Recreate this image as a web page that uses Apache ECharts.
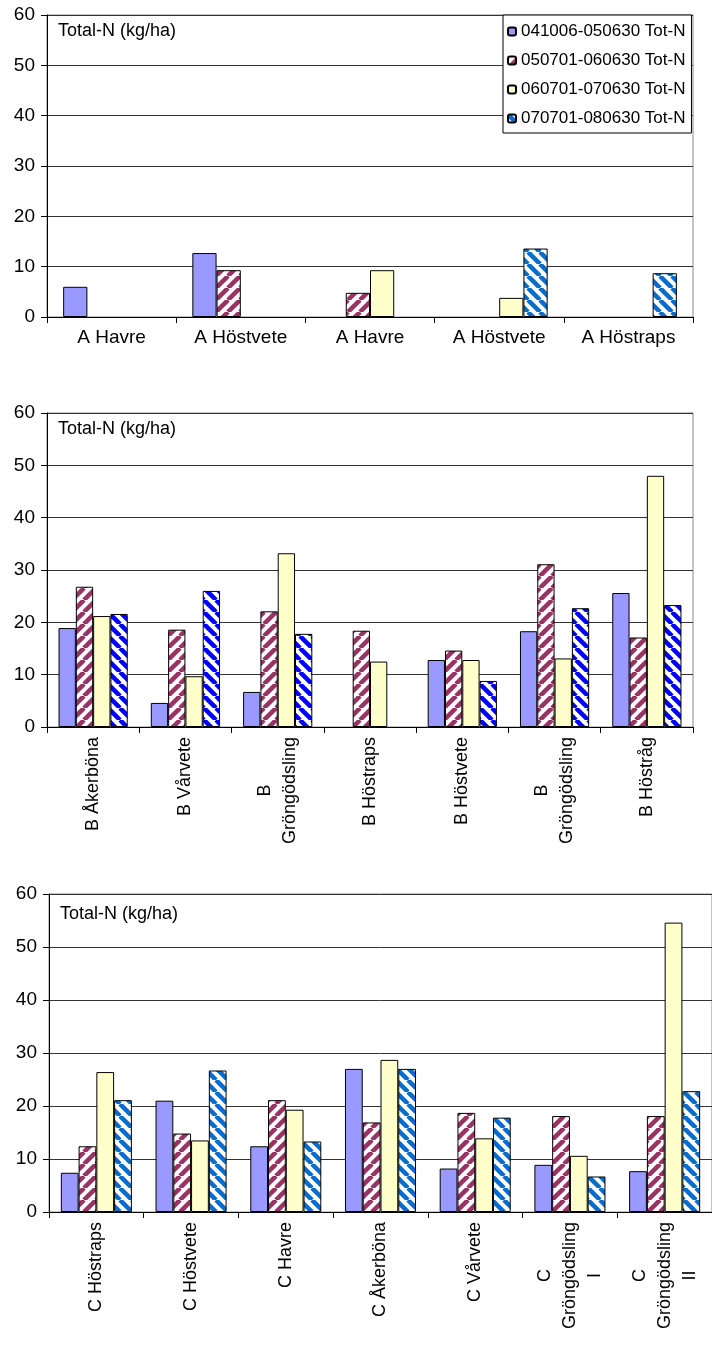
<!DOCTYPE html>
<html>
<head>
<meta charset="utf-8">
<script src="https://cdn.jsdelivr.net/npm/echarts@6/dist/echarts.min.js"></script>
<style>
html, body { margin: 0; padding: 0; background: #fff; }
#chart { width: 712px; height: 1348px; }
</style>
</head>
<body>
<div id="chart"></div>
<script>
// ---- data ----
const seriesNames = ['041006-050630 Tot-N', '050701-060630 Tot-N', '060701-070630 Tot-N', '070701-080630 Tot-N'];
const unitLabel = 'Total-N (kg/ha)';
const yTicks = { min: 0, max: 60, interval: 10 };

const categoriesA = ['A Havre', 'A Höstvete', 'A Havre', 'A Höstvete', 'A Höstraps'];
const A1 = [6.0, 12.7, null, null, null];
const A2 = [null, 9.3, 4.8, null, null];
const A3 = [null, null, 9.3, 3.8, null];
const A4 = [null, null, null, 13.6, 8.7];

const categoriesB = ['B Åkerböna', 'B Vårvete', 'B\nGröngödsling', 'B Höstraps', 'B Höstvete', 'B\nGröngödsling', 'B Höstråg'];
const B1 = [18.9, 4.6, 6.7, null, 12.8, 18.3, 25.6];
const B2 = [26.8, 18.6, 22.1, 18.4, 14.6, 31.1, 17.1];
const B3 = [21.2, 9.7, 33.2, 12.5, 12.8, 13.1, 48.0];
const B4 = [21.6, 26.0, 17.8, null, 8.8, 22.7, 23.3];

const categoriesC = ['C Höstraps', 'C Höstvete', 'C Havre', 'C Åkerböna', 'C Vårvete', 'C\nGröngödsling\nI', 'C\nGröngödsling\nII'];
const C1 = [7.4, 21.0, 12.4, 27.0, 8.2, 8.9, 7.7];
const C2 = [12.4, 14.8, 21.1, 16.9, 18.7, 18.1, 18.1];
const C3 = [26.4, 13.5, 19.3, 28.7, 13.9, 10.6, 54.6];
const C4 = [21.1, 26.7, 13.3, 27.0, 17.8, 6.7, 22.8];

// ---- styles ----
const FONT = '"Liberation Sans", Arial, sans-serif';
function hatch(color, dir) {
  const s = 12;
  const c = document.createElement('canvas');
  c.width = s; c.height = s;
  const g = c.getContext('2d');
  g.fillStyle = '#ffffff';
  g.fillRect(0, 0, s, s);
  g.strokeStyle = color;
  g.lineWidth = 4.5;
  for (let i = -s; i <= s; i += s) {
    g.beginPath();
    if (dir === 'up') { g.moveTo(i, s); g.lineTo(i + s, 0); }
    else { g.moveTo(i, 0); g.lineTo(i + s, s); }
    g.stroke();
  }
  return { image: c, repeat: 'repeat' };
}
const fillBlue = '#9999FF';
const fillYellow = '#FFFFCC';
const fillRed = hatch('#993366', 'up');
const fillHatchBlue = hatch('#0A6CCC', 'down');
const fillHatchBlue2 = hatch('#0000FF', 'down');

const grids = [
  { left: 47, top: 15, width: 646, height: 302 },
  { left: 47, top: 413, width: 646, height: 314 },
  { left: 49, top: 894, width: 667, height: 318 }
];

function xAxis(gi, cats, rotated) {
  const lab = {
    interval: 0, color: '#000', fontFamily: FONT, fontSize: rotated ? 18 : 19,
    margin: rotated ? 10 : 11
  };
  if (rotated) {
    lab.rotate = 90;
    lab.formatter = (v) => v.split('\n').map(l => '{c|' + l + '}').join('\n');
    lab.rich = { c: { align: 'center', fontFamily: FONT, fontSize: 18, color: '#000', lineHeight: 25 } };
  }
  return {
    type: 'category', gridIndex: gi, data: cats,
    axisLine: { show: true, lineStyle: { color: '#000', width: 1 } },
    axisTick: { show: true, length: 6, alignWithLabel: false, lineStyle: { color: '#000' } },
    axisLabel: lab,
    splitLine: { show: false }
  };
}
function yAxis(gi) {
  return {
    type: 'value', gridIndex: gi, min: yTicks.min, max: yTicks.max, interval: yTicks.interval,
    axisLine: { show: true, lineStyle: { color: '#000', width: 1 } },
    axisTick: { show: true, length: 6, lineStyle: { color: '#000' } },
    axisLabel: { color: '#000', fontFamily: FONT, fontSize: 19, margin: 12 },
    splitLine: { show: true, lineStyle: { color: '#333', width: 1 } }
  };
}
function bars(gi, data, fills) {
  return data.map((d, k) => ({
    type: 'bar', name: seriesNames[k], xAxisIndex: gi, yAxisIndex: gi, data: d,
    barGap: '0%', barCategoryGap: '25%',
    itemStyle: { color: fills[k], borderColor: '#000', borderWidth: 1 },
    emphasis: { disabled: true }
  }));
}

const chart = echarts.init(document.getElementById('chart'), null, { renderer: 'canvas' });
chart.setOption({
  animation: false,
  backgroundColor: '#fff',
  title: [
    { text: unitLabel, left: 58, top: 22 },
    { text: unitLabel, left: 58, top: 420 },
    { text: unitLabel, left: 60, top: 905 }
  ].map(t => Object.assign(t, { padding: 0, textStyle: { fontFamily: FONT, fontSize: 18, fontWeight: 'normal', color: '#000' } })),
  legend: {
    data: seriesNames, orient: 'vertical', left: 503, top: 15,
    padding: [8, 6, 6, 4], itemGap: 12, itemWidth: 8, itemHeight: 8,
    backgroundColor: '#fff', borderColor: '#000', borderWidth: 1, borderRadius: 0,
    selectedMode: false,
    textStyle: { fontFamily: FONT, fontSize: 17, color: '#000' }
  },
  grid: grids.map(g => Object.assign({ show: true, borderColor: '#888', borderWidth: 1, backgroundColor: '#fff' }, g)),
  xAxis: [xAxis(0, categoriesA, false), xAxis(1, categoriesB, true), xAxis(2, categoriesC, true)],
  yAxis: [yAxis(0), yAxis(1), yAxis(2)],
  series: [].concat(
    bars(0, [A1, A2, A3, A4], [fillBlue, fillRed, fillYellow, fillHatchBlue]),
    bars(1, [B1, B2, B3, B4], [fillBlue, fillRed, fillYellow, fillHatchBlue2]),
    bars(2, [C1, C2, C3, C4], [fillBlue, fillRed, fillYellow, fillHatchBlue])
  )
});
</script>
</body>
</html>
